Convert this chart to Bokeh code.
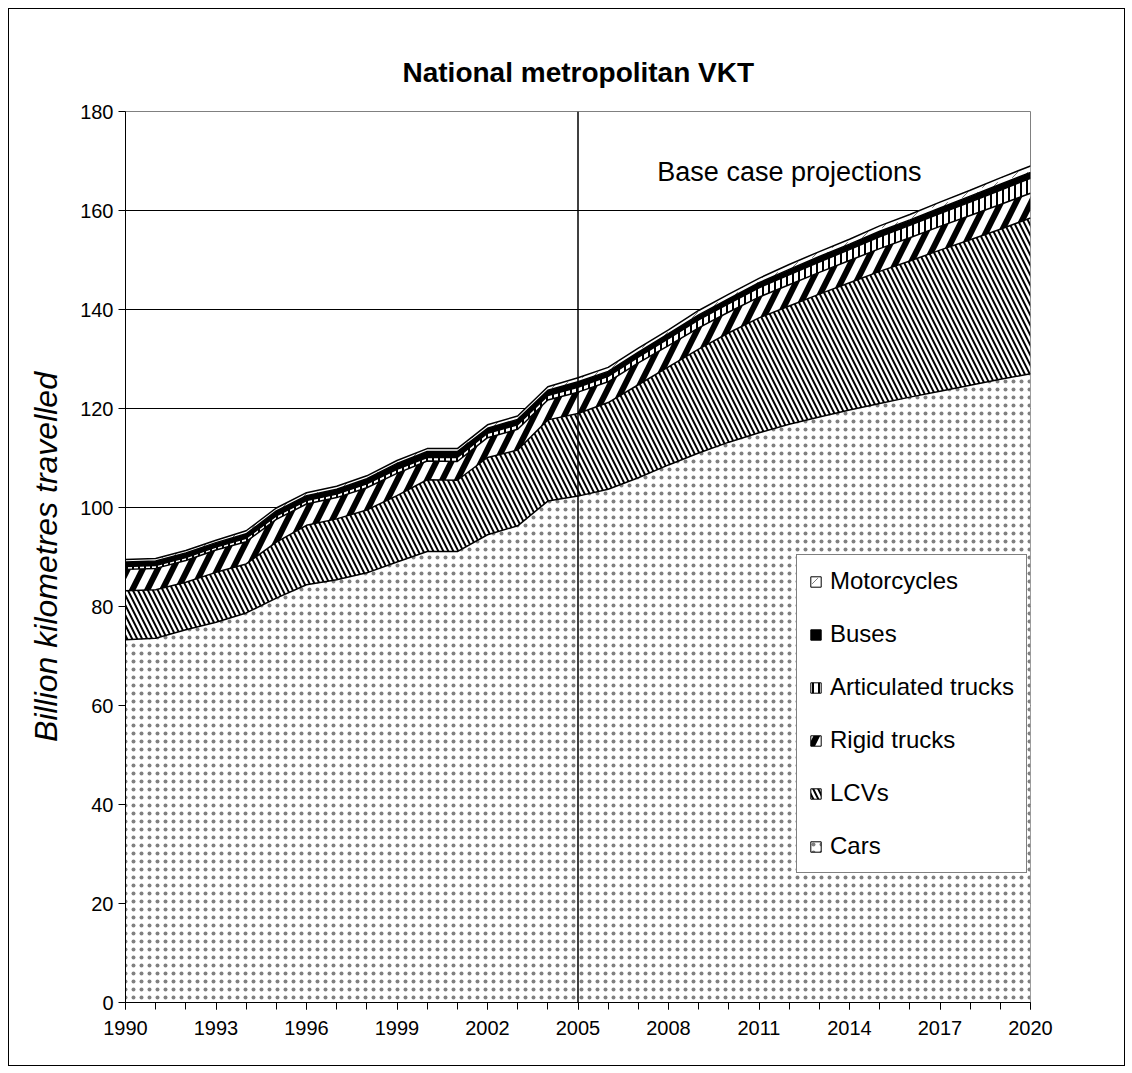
from bokeh.plotting import figure
from bokeh.models import (ColumnDataSource, Range1d, FixedTicker, Legend, LegendItem,
                          Span, Label, InlineStyleSheet)
from bokeh.transform import stack
from bokeh.embed import file_html
from bokeh.resources import INLINE

# ---------------- data (billion km) ----------------
years = list(range(1990, 2021))
cars = [73.3, 73.6, 75.3, 76.8, 78.7, 81.7, 84.4, 85.4, 86.8, 89.0,
        91.1, 91.1, 94.5, 96.3, 101.3, 102.3, 103.7, 106.0, 108.6, 111.0,
        113.2, 115.1, 116.8, 118.3, 119.7, 121.0, 122.3, 123.5, 124.7, 125.9, 127.0]
lcvs = [9.9, 9.8, 9.6, 10.1, 9.9, 11.3, 12.0, 12.3, 12.7, 13.4,
        14.5, 14.4, 15.6, 15.3, 16.4, 16.7, 17.5, 18.8, 19.8, 21.0,
        22.1, 23.2, 23.9, 24.8, 25.7, 26.7, 27.5, 28.5, 29.4, 30.3, 31.5]
rigid = [4.3, 4.3, 4.4, 4.5, 4.5, 4.6, 4.3, 4.3, 4.5, 4.5,
         3.8, 3.8, 4.0, 4.2, 4.0, 4.3, 4.2, 4.4, 4.3, 4.3,
         4.2, 4.2, 4.3, 4.4, 4.5, 4.6, 4.7, 4.8, 4.9, 5.0, 5.0]
artic = [0.6, 0.6, 0.6, 0.6, 0.7, 0.7, 0.7, 0.7, 0.8, 0.8,
         0.7, 0.8, 0.9, 0.9, 0.9, 1.0, 1.1, 1.2, 1.4, 1.6,
         1.7, 1.9, 2.0, 2.1, 2.2, 2.4, 2.5, 2.6, 2.7, 2.9, 3.0]
buses = [0.9, 0.9, 0.9, 0.9, 0.9, 1.0, 1.0, 1.0, 1.0, 1.2,
         1.2, 1.2, 1.0, 1.1, 1.1, 1.1, 1.0, 1.0, 1.0, 1.0,
         1.0, 1.0, 1.1, 1.1, 1.1, 1.1, 1.1, 1.1, 1.2, 1.2, 1.2]
motorcycles = [0.5, 0.5, 0.5, 0.5, 0.6, 0.6, 0.6, 0.6, 0.6, 0.6,
               0.6, 0.6, 0.7, 0.7, 0.7, 0.8, 0.8, 0.8, 0.8, 0.9,
               0.9, 0.9, 1.0, 1.0, 1.0, 1.1, 1.1, 1.2, 1.2, 1.3, 1.3]

series_keys = ["cars", "lcvs", "rigid", "artic", "buses", "moto"]
series_names = ["Cars", "LCVs", "Rigid trucks", "Articulated trucks", "Buses", "Motorcycles"]
x_ticks = list(range(1990, 2021, 3))
x_tick_labels = ["1990", "1993", "1996", "1999", "2002", "2005",
                 "2008", "2011", "2014", "2017", "2020"]
y_ticks = [0, 20, 40, 60, 80, 100, 120, 140, 160, 180]
y_tick_labels = ["0", "20", "40", "60", "80", "100", "120", "140", "160", "180"]
title_text = "National metropolitan VKT"
y_title = "Billion kilometres travelled"
note_text = "Base case projections"
projection_start = 2005

source = ColumnDataSource(dict(year=years, cars=cars, lcvs=lcvs, rigid=rigid,
                               artic=artic, buses=buses, moto=motorcycles))

FONT = "Liberation Sans"

styles = {
    "cars": dict(fill_color="white", hatch_pattern="dot", hatch_color="#808080",
                 hatch_scale=8, hatch_weight=1),
    "lcvs": dict(fill_color="white", hatch_pattern="left_diagonal_line", hatch_color="black",
                 hatch_scale=10, hatch_weight=2),
    "rigid": dict(fill_color="white", hatch_pattern="right_diagonal_line", hatch_color="black",
                  hatch_scale=30, hatch_weight=6),
    "artic": dict(fill_color="white", hatch_pattern="vertical_line", hatch_color="black",
                  hatch_scale=6, hatch_weight=2),
    "buses": dict(fill_color="black"),
    "moto": dict(fill_color="white", hatch_pattern="right_diagonal_dash", hatch_color="#777777",
                 hatch_scale=10, hatch_weight=1),
}

css = InlineStyleSheet(css=":host { position: relative; left: 8px; top: 8px; "
                           "border: 1px solid #000; }")

p = figure(frame_width=905, frame_height=891,
           min_border_left=116, min_border_top=102, min_border_right=94, min_border_bottom=63,
           x_range=Range1d(1990, 2020), y_range=Range1d(0, 180),
           output_backend="svg", toolbar_location=None, stylesheets=[css])

p.background_fill_color = "white"
p.border_fill_color = "white"
p.outline_line_color = "#808080"
p.outline_line_width = 1

# grid
p.xgrid.visible = False
p.ygrid.ticker = FixedTicker(ticks=y_ticks[1:-1])
p.ygrid.grid_line_color = "black"
p.ygrid.grid_line_width = 1

# stacked areas
for i, key in enumerate(series_keys):
    p.varea(x="year", y1=stack(*series_keys[:i]), y2=stack(*series_keys[:i + 1]),
            source=source, **styles[key])
for i, key in enumerate(series_keys):
    p.line(x="year", y=stack(*series_keys[:i + 1]), source=source,
           line_color="black", line_width=1.5)

# legend swatch renderers (hidden, zero-size; used only for the outlined swatches)
proxies = {}
for i, key in enumerate(series_keys):
    top = stack(*series_keys[:i + 1])
    r = p.quad(left="year", right="year", bottom=top, top=top, source=source,
               line_color="black", line_width=1, **styles[key])
    r.visible = False
    proxies[key] = r

items = [LegendItem(label=name, renderers=[proxies[key]])
         for key, name in zip(series_keys, series_names)][::-1]
legend = Legend(items=items, location=(671, 129))
legend.label_text_font = FONT
legend.label_text_font_size = "24px"
legend.label_text_color = "black"
legend.glyph_width = 13
legend.glyph_height = 13
legend.label_standoff = 8
legend.padding = 12
legend.spacing = 25
legend.label_height = 28
legend.margin = 0
legend.border_line_color = "black"
legend.border_line_width = 1
legend.background_fill_color = "white"
legend.background_fill_alpha = 1
p.add_layout(legend)

# projection divider and note
p.add_layout(Span(location=projection_start, dimension="height",
                  line_color="black", line_width=1.5))
p.add_layout(Label(x=2007.63, y=167.7, text=note_text, text_font=FONT,
                   text_font_size="27px", text_color="black",
                   text_baseline="alphabetic", text_align="left"))

# title
p.title.text = title_text
p.title.text_font = FONT
p.title.text_font_size = "28px"
p.title.text_font_style = "bold"
p.title.text_color = "black"
p.title.align = "left"
p.title.offset = 277
p.title.standoff = 47

# axes
p.xaxis.ticker = FixedTicker(ticks=x_ticks, minor_ticks=years)
p.xaxis.major_label_overrides = {t: s for t, s in zip(x_ticks, x_tick_labels)}
p.yaxis.ticker = FixedTicker(ticks=y_ticks)
p.yaxis.major_label_overrides = {t: s for t, s in zip(y_ticks, y_tick_labels)}
for ax in (p.xaxis[0], p.yaxis[0]):
    ax.axis_line_color = "black"
    ax.axis_line_width = 1
    ax.major_tick_line_color = "black"
    ax.major_tick_out = 7
    ax.major_tick_in = 0
    ax.minor_tick_line_color = "black"
    ax.minor_tick_out = 7
    ax.minor_tick_in = 0
    ax.major_label_text_font = FONT
    ax.major_label_text_font_size = "20px"
    ax.major_label_text_color = "black"
p.yaxis.minor_tick_line_color = None
p.xaxis.major_label_standoff = 11
p.yaxis.major_label_standoff = 5
p.yaxis.axis_label = y_title
p.yaxis.axis_label_text_font = FONT
p.yaxis.axis_label_text_font_size = "32px"
p.yaxis.axis_label_text_font_style = "italic"
p.yaxis.axis_label_text_color = "black"
p.yaxis.axis_label_standoff = 13

open("out.html", "w").write(file_html(p, INLINE))
